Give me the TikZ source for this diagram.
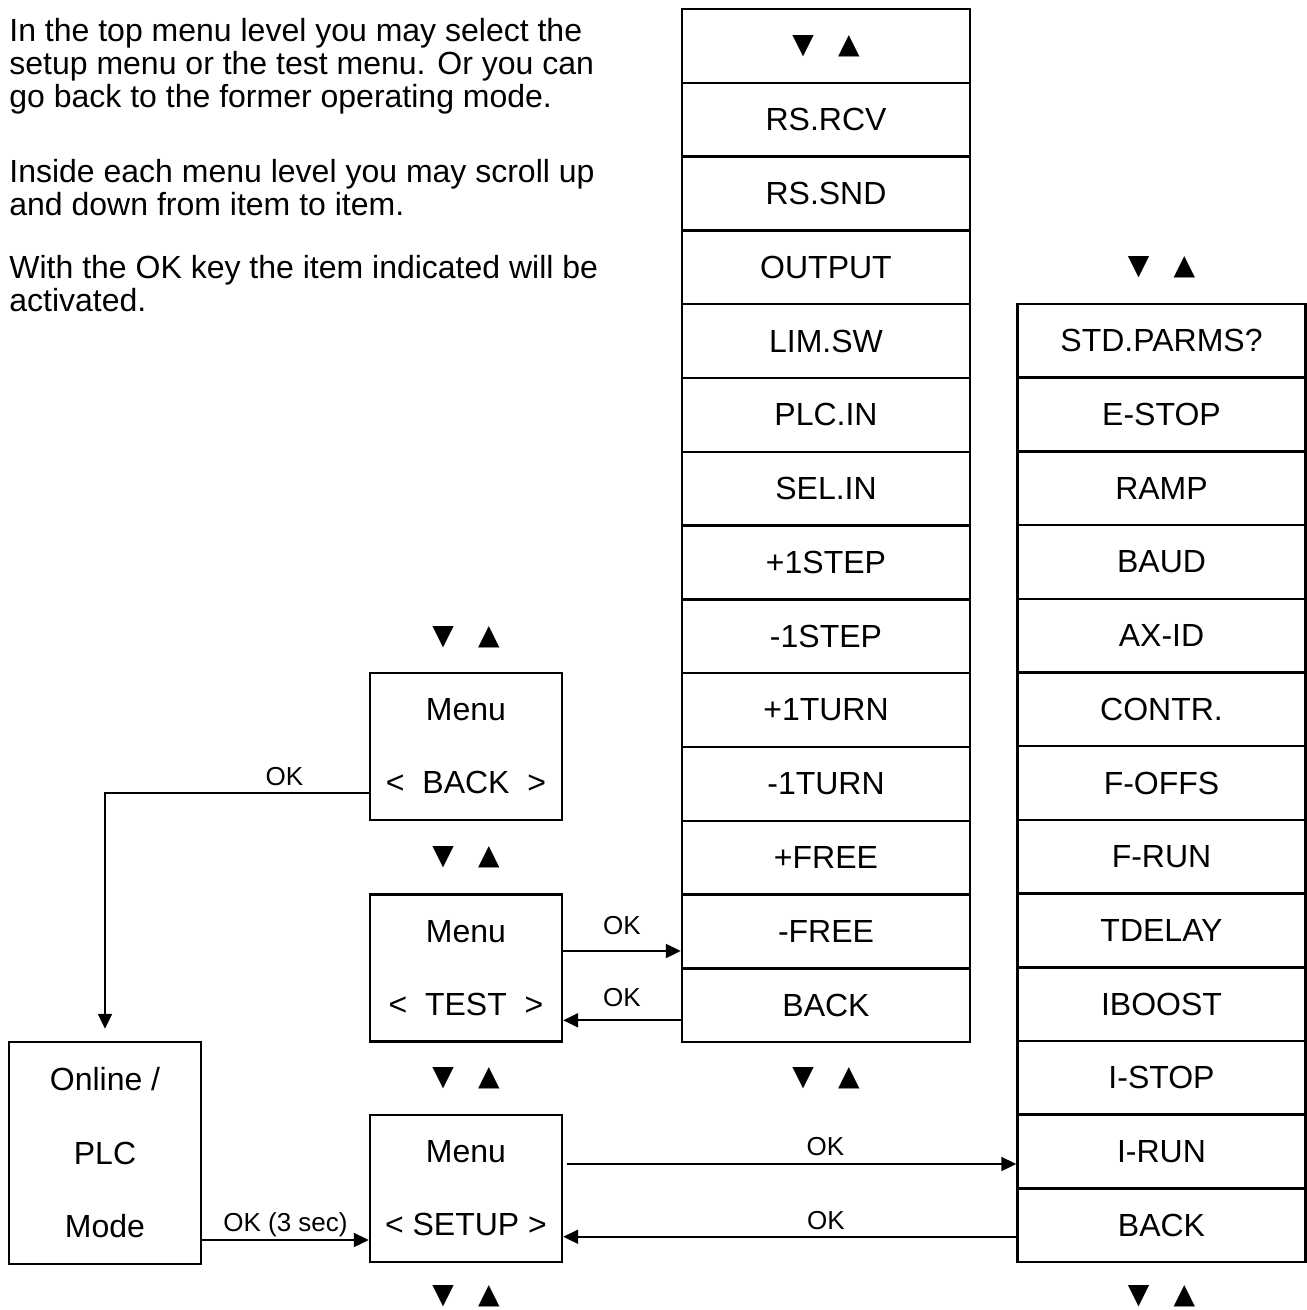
\documentclass[tikz,border=0pt]{standalone}
\usepackage{fontspec}
\setmainfont{Liberation Sans}
\newfontfamily\symfont{DejaVu Sans}
\usetikzlibrary{arrows.meta}

\tikzset{
  row/.style={draw, line width=1.2pt, minimum width=144pt, minimum height=36.9pt, inner sep=0pt, font=\fontsize{16}{18}\selectfont},
  menubox/.style={draw, line width=1.2pt, minimum width=96pt, minimum height=73.5pt, align=center, font=\fontsize{16}{36.5}\selectfont},
  updown/.style={font=\symfont\fontsize{14}{16}\selectfont, inner sep=0pt},
  para/.style={anchor=north west, align=left, inner sep=0pt, font=\fontsize{16}{16.5}\selectfont},
  oklabel/.style={font=\fontsize{13}{14}\selectfont, inner sep=0pt, text depth=0pt},
  arr/.style={line width=1pt, -{Triangle[length=7.5pt,width=7pt]}},
}
\newcommand{\updn}{{\symfont\fontsize{14}{16}\selectfont ▼\hspace{12pt}▲}}

\begin{document}
\begin{tikzpicture}[x=0.5pt,y=-0.5pt]
\useasboundingbox (0,0) rectangle (1306,1310);

% help text
\node[para] (p1) at (9,18) {In the top menu level you may select the\\setup menu or the test menu. Or you can\\go back to the former operating mode.};
\node[para] (p2) at (9,159) {Inside each menu level you may scroll up\\and down from item to item.};
\node[para] (p3) at (9,255) {With the OK key the item indicated will be\\activated.};

% top menu level
\node[menubox] (back) at (466,746.5) {Menu\\<\ \ BACK\ \ >};
\node[menubox] (test) at (466,968) {Menu\\<\ \ TEST\ \ >};
\node[menubox] (setup) at (466,1188.5) {Menu\\< SETUP >};
\node[menubox, minimum height=111pt, font=\fontsize{16}{36.75}\selectfont] (online) at (105,1153) {Online /\\PLC\\Mode};

\node[updown] (ud1) at (466,637) {\updn};
\node[updown] (ud2) at (466,857) {\updn};
\node[updown] (ud3) at (466,1078) {\updn};
\node[updown] (ud4) at (466,1296) {\updn};

% test menu
\foreach \lbl [count=\i from 0] in {{\updn},RS.RCV,RS.SND,OUTPUT,LIM.SW,PLC.IN,SEL.IN,+1STEP,-1STEP,+1TURN,-1TURN,+FREE,-FREE,BACK}
  \node[row] (t\i) at (826,45.9+73.8*\i) {\lbl};
\node[updown] (ud5) at (826,1078) {\updn};

% setup menu
\foreach \lbl [count=\j from 0] in {STD.PARMS?,E-STOP,RAMP,BAUD,AX-ID,CONTR.,F-OFFS,F-RUN,TDELAY,IBOOST,I-STOP,I-RUN,BACK}
  \node[row] (s\j) at (1161.5,340.85+73.7*\j) {\lbl};
\node[updown] (ud6) at (1161.5,267) {\updn};
\node[updown] (ud7) at (1161.5,1296) {\updn};

% OK transitions
\coordinate (bk) at ([yshift=-23.25pt]back.west);
\draw[arr, shorten >=6pt] (bk) -| (online.north) node[pos=0.16, above=3.25pt, oklabel] {OK};

\coordinate (tk) at ([yshift=8.5pt]test.east);
\draw[arr] (tk) -- (tk -| t12.west) node[midway, above=8pt, oklabel] {OK};
\coordinate (bt) at ([yshift=-7.5pt]t13.west);
\draw[arr] (bt) -- (bt -| test.east) node[midway, above=6.3pt, oklabel] {OK};

\coordinate (sk) at ([yshift=12.25pt]setup.east);
\draw[arr] ([xshift=2pt]sk) -- (sk -| s11.west) node[pos=0.575, above=3.6pt, oklabel] {OK};
\coordinate (sb) at ([yshift=-5.75pt]s12.west);
\draw[arr] (sb) -- (sb -| setup.east) node[pos=0.42, above=3.3pt, oklabel] {OK};

\coordinate (ol) at ([yshift=-43.5pt]online.east);
\draw[arr] (ol) -- (ol -| setup.west) node[midway, above=3.9pt, oklabel] {OK (3 sec)};
\end{tikzpicture}
\end{document}
